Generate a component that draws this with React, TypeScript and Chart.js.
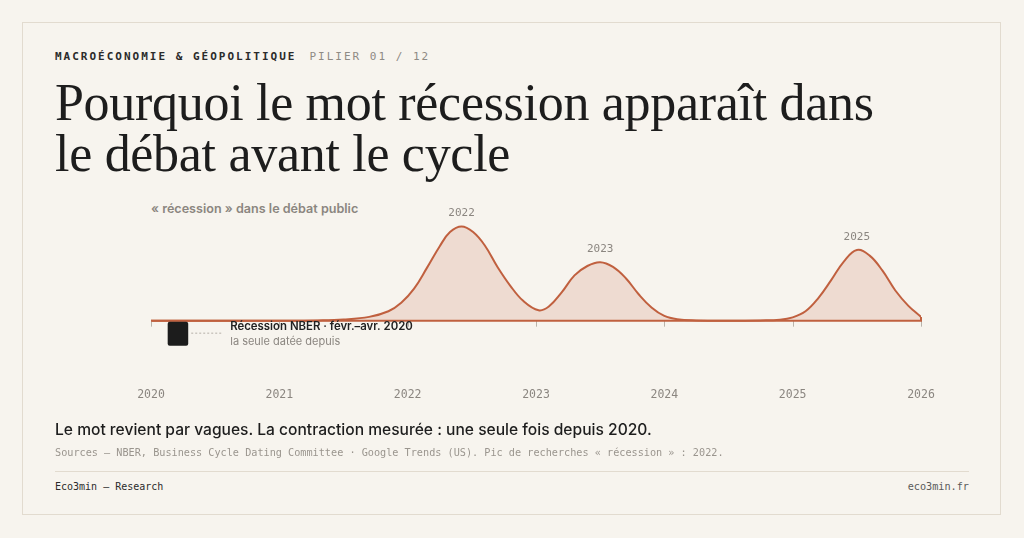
import { Chart, registerables } from "chart.js";
import { useEffect, useRef } from "react";

Chart.register(...registerables);

// search interest for "récession" (index, 2022 peak = 100)
const years = [
  2020, 2020.5, 2021, 2021.3, 2021.5, 2021.7, 2021.85, 2021.95, 2022.05, 2022.15,
  2022.25, 2022.33, 2022.42, 2022.51, 2022.6, 2022.7, 2022.8, 2022.9, 2023.02, 2023.1,
  2023.2, 2023.3, 2023.4, 2023.5, 2023.6, 2023.7, 2023.8, 2023.9, 2024, 2024.1,
  2024.25, 2024.5, 2024.75, 2024.9, 2025, 2025.1, 2025.2, 2025.3, 2025.4, 2025.5,
  2025.6, 2025.7, 2025.8, 2025.9, 2026,
];
const interest = [
  0, 0, 0, 0.3, 1.2, 4, 10, 19, 34, 56,
  79, 94, 100, 94, 80, 57, 37, 21, 11, 15,
  30, 48, 58, 62, 57, 45, 28, 14, 5, 1.5,
  0.3, 0, 0.3, 1, 3.5, 10, 24, 43, 63, 75,
  69, 53, 32, 16, 4,
];

const peakYears = [2022.42, 2023.5, 2025.5];
const peakValues = [100, 62, 75];
const peakLabels = ["2022", "2023", "2025"];

// NBER recession, Feb–Apr 2020
const recessionStart = 2020.13;
const recessionEnd = 2020.29;

const MONO = "'DejaVu Sans Mono', monospace";
const SANS = "Inter, 'Noto Sans', sans-serif";
const LINE = "#c0603f";

const overlay = {
  id: "overlay",
  afterDatasetsDraw(chart: Chart) {
    const { ctx, scales } = chart;
    const x = scales.x;
    const y = scales.y;
    const y0 = y.getPixelForValue(0);
    ctx.save();

    // year ticks under the baseline
    ctx.strokeStyle = "#b9b3aa";
    ctx.lineWidth = 1;
    for (let yr = 2020; yr <= 2026; yr++) {
      const px = Math.round(x.getPixelForValue(yr)) + 0.5;
      ctx.beginPath();
      ctx.moveTo(px, y0);
      ctx.lineTo(px, y0 + 6);
      ctx.stroke();
    }

    // baseline and closing edge of the last wave
    ctx.strokeStyle = LINE;
    ctx.lineWidth = 2;
    const xEnd = x.getPixelForValue(2026);
    ctx.beginPath();
    ctx.moveTo(x.getPixelForValue(2020), y0);
    ctx.lineTo(xEnd, y0);
    ctx.lineTo(xEnd, y.getPixelForValue(interest[interest.length - 1]));
    ctx.stroke();

    // recession block
    const bx0 = x.getPixelForValue(recessionStart);
    const bx1 = x.getPixelForValue(recessionEnd);
    ctx.fillStyle = "#1c1c1c";
    ctx.beginPath();
    ctx.roundRect(bx0, y0 + 1, bx1 - bx0, 24, 2);
    ctx.fill();

    ctx.strokeStyle = "#b5b0a8";
    ctx.lineWidth = 1;
    ctx.setLineDash([2, 2]);
    ctx.beginPath();
    ctx.moveTo(bx1 + 3, y0 + 12.5);
    ctx.lineTo(bx1 + 35, y0 + 12.5);
    ctx.stroke();
    ctx.setLineDash([]);

    ctx.textAlign = "left";
    ctx.textBaseline = "middle";
    ctx.fillStyle = "#222";
    ctx.font = `600 11.4px ${SANS}`;
    ctx.fillText("Récession NBER · févr.–avr. 2020", bx1 + 42, y0 + 6);
    ctx.fillStyle = "#8b8680";
    ctx.font = `400 11px ${SANS}`;
    ctx.fillText("la seule datée depuis", bx1 + 42, y0 + 21);

    // peak labels
    ctx.textAlign = "center";
    ctx.fillStyle = "#8b8680";
    ctx.font = `400 11px ${MONO}`;
    peakYears.forEach((yr, i) => {
      ctx.fillText(peakLabels[i], x.getPixelForValue(yr), y.getPixelForValue(peakValues[i]) - 13);
    });
    ctx.restore();
  },
};

function RecessionChart() {
  const chartRef = useRef<HTMLCanvasElement | null>(null);
  useEffect(() => {
    const ctx = chartRef.current?.getContext("2d");
    if (!ctx) return;
    const chart = new Chart(ctx, {
      type: "line",
      data: {
        datasets: [
          {
            data: years.map((yr, i) => ({ x: yr, y: interest[i] })),
            borderColor: LINE,
            borderWidth: 2,
            backgroundColor: "rgba(192, 96, 63, 0.16)",
            fill: "origin",
            pointRadius: 0,
            tension: 0.4,
          },
        ],
      },
      options: {
        responsive: true,
        maintainAspectRatio: false,
        animation: false,
        layout: { padding: { left: 151, right: 103, top: 26, bottom: 8 } },
        plugins: {
          legend: { display: false },
          tooltip: { enabled: false },
        },
        scales: {
          x: {
            type: "linear",
            min: 2020,
            max: 2026,
            grid: { display: false, drawTicks: false },
            border: { display: false },
            ticks: {
              stepSize: 1,
              padding: 11,
              color: "#8b8680",
              font: { family: MONO, size: 11.5 },
              callback: (v) => String(v),
            },
          },
          y: {
            display: false,
            min: -60,
            max: 110,
          },
        },
      },
      plugins: [overlay],
    });
    return () => chart.destroy();
  }, []);

  return (
    <div style={{ position: "absolute", left: 0, top: 191, width: 1024, height: 230 }}>
      <canvas ref={chartRef}></canvas>
    </div>
  );
}

export default function App() {
  return (
    <div
      style={{
        position: "absolute",
        left: 0,
        top: 0,
        width: 1024,
        height: 538,
        background: "#f7f4ee",
        overflow: "hidden",
      }}
    >
      <div
        style={{
          position: "absolute",
          left: 22,
          top: 22,
          width: 977,
          height: 491,
          border: "1px solid #e2dbcf",
        }}
      />
      <div
        style={{
          position: "absolute",
          left: 55,
          top: 50,
          fontFamily: MONO,
          fontSize: 11,
          letterSpacing: 2,
          whiteSpace: "nowrap",
        }}
      >
        <span style={{ color: "#2b2b2b", fontWeight: 700 }}>MACROÉCONOMIE &amp; GÉOPOLITIQUE</span>
        <span style={{ color: "#8e8a84", marginLeft: 13 }}>PILIER 01 / 12</span>
      </div>
      <div
        style={{
          position: "absolute",
          left: 55,
          top: 77,
          fontFamily: "'Liberation Serif', serif",
          fontSize: 52,
          lineHeight: "51px",
          color: "#1d1d1d",
          letterSpacing: -0.3,
          whiteSpace: "nowrap",
        }}
      >
        Pourquoi le mot récession apparaît dans
        <br />
        le débat avant le cycle
      </div>
      <div
        style={{
          position: "absolute",
          left: 151,
          top: 201,
          fontFamily: SANS,
          fontSize: 12.6,
          fontWeight: 600,
          color: "#8b8680",
          whiteSpace: "nowrap",
        }}
      >
        « récession » dans le débat public
      </div>
      <RecessionChart />
      <div
        style={{
          position: "absolute",
          left: 55,
          top: 420,
          fontFamily: SANS,
          fontSize: 15.6,
          fontWeight: 500,
          color: "#1d1d1d",
          whiteSpace: "nowrap",
        }}
      >
        Le mot revient par vagues. La contraction mesurée : une seule fois depuis 2020.
      </div>
      <div
        style={{
          position: "absolute",
          left: 55,
          top: 447,
          fontFamily: MONO,
          fontSize: 10.2,
          color: "#9a958e",
          whiteSpace: "nowrap",
        }}
      >
        Sources — NBER, Business Cycle Dating Committee · Google Trends (US). Pic de recherches « récession » : 2022.
      </div>
      <div
        style={{
          position: "absolute",
          left: 55,
          top: 471,
          width: 914,
          height: 1,
          background: "#e2dbcf",
        }}
      />
      <div
        style={{
          position: "absolute",
          left: 55,
          top: 481,
          fontFamily: MONO,
          fontSize: 10,
          color: "#2b2b2b",
          whiteSpace: "nowrap",
        }}
      >
        Eco3min — Research
      </div>
      <div
        style={{
          position: "absolute",
          right: 55,
          top: 481,
          fontFamily: MONO,
          fontSize: 10.2,
          color: "#5a5a5a",
          whiteSpace: "nowrap",
        }}
      >
        eco3min.fr
      </div>
    </div>
  );
}
